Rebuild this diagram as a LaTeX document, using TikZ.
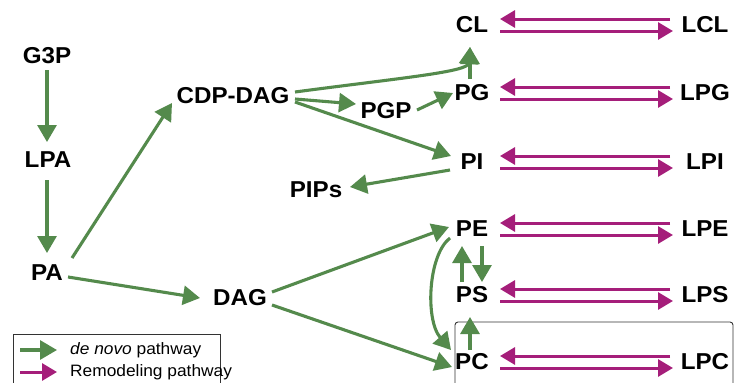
\documentclass[tikz,border=0pt]{standalone}
\usepackage{fontspec}
\setmainfont{Liberation Sans}[FakeStretch=1.05]
\usetikzlibrary{arrows.meta}
\definecolor{gr}{RGB}{84,138,76}
\definecolor{mg}{RGB}{165,30,122}
\tikzset{
  lab/.style={font=\bfseries\fontsize{23}{23}\selectfont, inner sep=0pt, text=black},
  gar/.style={draw=gr, line width=3.1pt, -{Triangle[length=17pt,width=19pt]}},
  mar/.style={draw=mg, line width=3pt, -{Triangle[length=15pt,width=17pt]}},
  legtext/.style={font=\fontsize{16.5}{16.5}\selectfont, inner sep=0pt, anchor=west}
}
\begin{document}
\begin{tikzpicture}[x=1pt,y=-1pt]
\useasboundingbox (0,0) rectangle (734,383);
% nodes
\node[lab] (G3P) at (47,56) {G3P};
\node[lab] (LPA) at (48,160) {LPA};
\node[lab] (PA) at (47,273) {PA};
\node[lab] (CDP) at (233,96) {CDP-DAG};
\node[lab] (PGP) at (386,111) {PGP};
\node[lab] (PIPs) at (316,190) {PIPs};
\node[lab] (DAG) at (240,298) {DAG};
\node[lab] (CL) at (472,25) {CL};
\node[lab] (PG) at (472,93) {PG};
\node[lab] (PI) at (472,162) {PI};
\node[lab] (PE) at (472,229) {PE};
\node[lab] (PS) at (472,295) {PS};
\node[lab] (PC) at (472,362) {PC};
\node[lab] (LCL) at (705,25) {LCL};
\node[lab] (LPG) at (705,93) {LPG};
\node[lab] (LPI) at (705,162) {LPI};
\node[lab] (LPE) at (705,229) {LPE};
\node[lab] (LPS) at (705,295) {LPS};
\node[lab] (LPC) at (705,362) {LPC};
% box around PC row
\draw[black!80, line width=0.9pt, rounded corners=3pt] (455,322) rectangle (733,392);
% de novo arrows
\draw[gar] ([shift={(0,14)}]G3P.center) -- ([shift={(-1,-18)}]LPA.center);
\draw[gar] ([shift={(-1,20)}]LPA.center) -- ([shift={(0,-20)}]PA.center);
\draw[gar] ([shift={(25,-15)}]PA.center) -- ([shift={(-61,7)}]CDP.center);
\draw[gar] ([shift={(21,4)}]PA.center) -- ([shift={(-40,0)}]DAG.center);
\draw[gar] ([shift={(62,3)}]CDP.center) -- ([shift={(-30,-7)}]PGP.center);
\draw[gar] ([shift={(31,-1)}]PGP.center) -- ([shift={(-19,0)}]PG.center);
\draw[gar] ([shift={(62,6)}]CDP.center) -- ([shift={(-21,-6)}]PI.center);
\draw[gar] ([shift={(-22,8)}]PI.center) -- ([shift={(34,-3)}]PIPs.center);
\draw[gar] ([shift={(62,-4)}]CDP.center) .. controls (400,78) and (468,72) .. ([shift={(-2,22)}]CL.center);
\draw[gar] ([shift={(-2,-14)}]PG.center) -- ([shift={(-2,22)}]CL.center);
\draw[gar] ([shift={(32,-6)}]DAG.center) -- ([shift={(-23,-2)}]PE.center);
\draw[gar] ([shift={(32,7)}]DAG.center) -- ([shift={(-20,5)}]PC.center);
\draw[gar] ([shift={(-22,9)}]PE.center) .. controls (428,255) and (425,320) .. ([shift={(-21,-12)}]PC.center);
\draw[gar] ([shift={(-10,-13)}]PS.center) -- ([shift={(-10,17)}]PE.center);
\draw[gar] ([shift={(10,17)}]PE.center) -- ([shift={(10,-13)}]PS.center);
\draw[gar] ([shift={(-2,-12)}]PC.center) -- ([shift={(-2,22)}]PS.center);
% remodeling arrows
\foreach \a/\b in {CL/LCL,PG/LPG,PI/LPI,PE/LPE,PS/LPS,PC/LPC}{
  \draw[mar] ([shift={(-35,-6)}]\b.center) -- ([shift={(28,-6)}]\a.center);
  \draw[mar] ([shift={(28,6)}]\a.center) -- ([shift={(-32,6)}]\b.center);
}
% legend
\draw[black!80, line width=0.9pt] (13,334) rectangle (220,392);
\coordinate (g1) at (20,350);
\coordinate (g2) at (57,350);
\coordinate (m1) at (20,372);
\coordinate (m2) at (57,372);
\draw[gar] (g1) -- (g2);
\draw[mar] (m1) -- (m2);
\node[legtext] (lt1) at (70,350) {\textit{de novo} pathway};
\node[legtext] (lt2) at (70,372) {Remodeling pathway};
\end{tikzpicture}
\end{document}
